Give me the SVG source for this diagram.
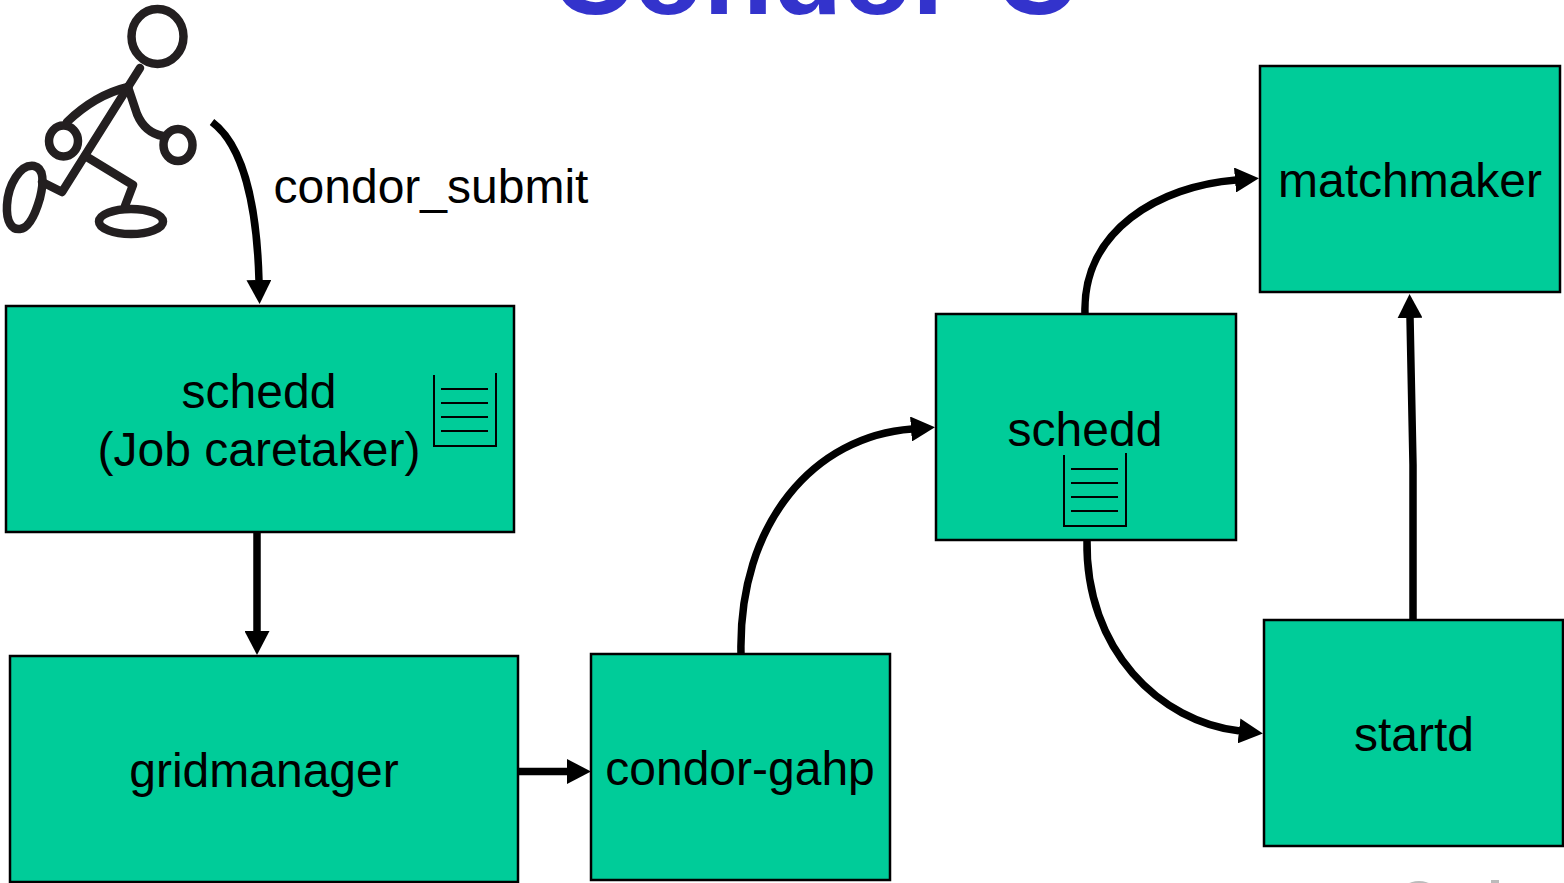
<svg xmlns="http://www.w3.org/2000/svg" width="1564" height="883" viewBox="0 0 1564 883">
  <style>
    .box { fill: #00CC99; stroke: #000; stroke-width: 2.5; }
    .lbl { font-family: "Liberation Sans", Arial, sans-serif; font-size: 48px; fill: #000; text-anchor: middle; }
    .edge { fill: none; stroke: #000; stroke-width: 7.5; }
    .doc { fill: none; stroke: #000; stroke-width: 2; }
    .fig { fill: none; stroke: #231f20; stroke-width: 8.5; stroke-linecap: round; stroke-linejoin: round; }
    .title { font-family: "Liberation Sans", Arial, sans-serif; font-weight: bold; font-size: 114px; fill: #3333CC; text-anchor: middle; }
  </style>
  <defs>
    <marker id="arrow" viewBox="0 0 24 25" markerWidth="24" markerHeight="25" refX="1" refY="12.5" orient="auto" markerUnits="userSpaceOnUse">
      <path d="M0,0 L24,12.5 L0,25 z" fill="#000"/>
    </marker>
  </defs>

  <rect width="1564" height="883" fill="#fff"/>

  <!-- slide title, mostly above the visible area -->
  <text class="title" x="814" y="14">Condor-C</text>

  <!-- user stick figure -->
  <g id="user" class="fig">
    <ellipse cx="157.5" cy="36.5" rx="26" ry="27.5"/>
    <path d="M140,68 L128,87"/>
    <path d="M128,87 Q95,95 67,122"/>
    <ellipse cx="63.5" cy="141" rx="14.5" ry="15.5"/>
    <path d="M128,87 L62,192 L42,182"/>
    <path d="M34,166 C20,164 8,185 7,205 C6,222 12,230 20,229 C30,228 36,212 40,198 C44,182 44,168 34,166 Z"/>
    <path d="M87,157 L133,185 L125,206"/>
    <ellipse cx="131" cy="221.5" rx="32" ry="12.5"/>
    <path d="M128,87 L137,114 Q145,133 163,136"/>
    <ellipse cx="178" cy="145" rx="14.5" ry="16"/>
  </g>

  <text class="lbl" x="431" y="203">condor_submit</text>

  <g id="schedd-submit">
    <rect class="box" x="6" y="306" width="508" height="226"/>
    <text class="lbl" x="259" y="408">schedd</text>
    <text class="lbl" x="259" y="466">(Job caretaker)</text>
    <g class="doc">
      <path d="M434,375 L434,446 L496,446 L496,373"/>
      <path d="M441,389 H488 M441,403 H488 M441,417 H488 M441,431 H488"/>
    </g>
  </g>

  <g id="gridmanager">
    <rect class="box" x="10" y="656" width="508" height="226"/>
    <text class="lbl" x="264" y="787">gridmanager</text>
  </g>

  <g id="condor-gahp">
    <rect class="box" x="591" y="654" width="299" height="226"/>
    <text class="lbl" x="740" y="785">condor-gahp</text>
  </g>

  <g id="schedd-remote">
    <rect class="box" x="936" y="314" width="300" height="226"/>
    <text class="lbl" x="1085" y="446">schedd</text>
    <g class="doc">
      <path d="M1064,455 L1064,526 L1126,526 L1126,453"/>
      <path d="M1071,469 H1118 M1071,483 H1118 M1071,497 H1118 M1071,511 H1118"/>
    </g>
  </g>

  <g id="matchmaker">
    <rect class="box" x="1260" y="66" width="300" height="226"/>
    <text class="lbl" x="1410" y="197">matchmaker</text>
  </g>

  <g id="startd">
    <rect class="box" x="1264" y="620" width="299" height="226"/>
    <text class="lbl" x="1414" y="751">startd</text>
  </g>

  <g id="connectors">
    <path class="edge" d="M212,122 C243,145 257,205 259,281" marker-end="url(#arrow)"/>
    <path class="edge" d="M257,532 L257,632" marker-end="url(#arrow)"/>
    <path class="edge" d="M518,771.5 L568,771.5" marker-end="url(#arrow)"/>
    <path class="edge" d="M741,654 C738,522 815,436 912,429" marker-end="url(#arrow)"/>
    <path class="edge" d="M1085,314 C1082,230 1160,186 1236,180" marker-end="url(#arrow)"/>
    <path class="edge" d="M1087,540 C1085,650 1160,722 1240,731" marker-end="url(#arrow)"/>
    <path class="edge" d="M1413,620 L1413,465 L1410,317" marker-end="url(#arrow)"/>
  </g>

  <!-- footer logo edge -->
  <g fill="#bbb">
    <ellipse cx="1419" cy="896" rx="20" ry="15"/>
    <rect x="1491" y="880" width="8" height="3"/>
  </g>
</svg>
